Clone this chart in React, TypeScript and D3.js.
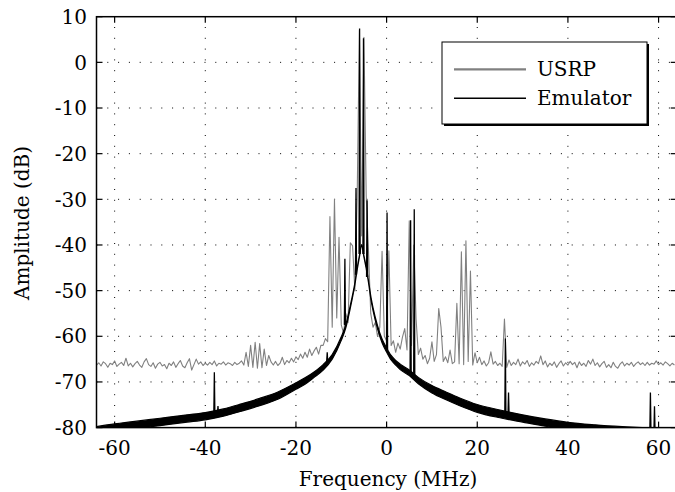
import React from "react";
import * as d3 from "d3";

const W = 675;
const H = 492;

// USRP spectrum, one value per 0.5 MHz bin from -64 MHz
const usrpDb: number[] = [
  -66.3,-65.8,-66.5,-65.6,-66.0,-66.8,-65.9,-66.2,-65.4,-66.6,
  -66.1,-65.7,-66.4,-64.8,-66.5,-65.9,-66.7,-66.0,-65.5,-66.3,
  -66.8,-65.6,-64.9,-66.2,-66.6,-65.8,-67.0,-66.1,-65.7,-66.5,
  -66.2,-67.1,-65.9,-66.4,-65.6,-66.8,-66.0,-65.3,-66.5,-66.9,
  -65.8,-64.9,-67.4,-66.2,-65.0,-66.1,-65.6,-66.4,-65.9,-66.3,
  -65.7,-66.2,-65.4,-66.5,-65.9,-66.1,-65.6,-66.3,-65.8,-66.0,
  -66.4,-65.7,-66.2,-65.9,-65.4,-66.3,-63.5,-66.6,-62.0,-66.8,
  -61.3,-67.0,-61.6,-66.9,-62.8,-66.4,-64.2,-65.6,-66.3,-65.5,
  -66.4,-65.9,-64.6,-66.2,-65.3,-65.8,-64.8,-65.6,-64.5,-65.1,
  -63.9,-64.8,-63.5,-64.6,-62.8,-64.2,-63.2,-62.4,-63.9,-62.0,
  -62.0,-60.5,-61.2,-33.8,-58.0,-30.0,-56.0,-38.3,-57.5,-59.3,
  -55.0,-57.0,-39.5,-40.2,-50.0,-30.0,7.0,-38.0,5.5,-29.3,
  -41.1,-55.0,-58.0,-57.0,-60.0,-58.0,-41.4,-60.0,-61.0,-41.3,
  -62.0,-61.0,-63.5,-61.5,-62.8,-60.2,-58.3,-63.0,-34.7,-62.0,
  -40.0,-56.1,-64.0,-62.6,-65.0,-64.2,-66.0,-64.8,-61.2,-65.5,
  -64.0,-53.9,-58.0,-65.5,-64.5,-65.8,-63.0,-66.0,-65.6,-52.8,
  -66.0,-41.5,-66.2,-39.1,-65.5,-45.7,-66.3,-63.6,-65.8,-64.6,
  -66.2,-65.4,-66.5,-65.8,-63.4,-66.1,-65.5,-66.4,-65.9,-66.6,
  -56.2,-66.8,-65.2,-66.4,-65.7,-66.2,-65.0,-66.5,-65.6,-66.1,
  -65.3,-66.6,-65.8,-66.3,-65.5,-66.0,-64.3,-66.2,-65.4,-66.7,
  -65.9,-66.4,-65.6,-66.8,-66.0,-65.4,-66.5,-65.8,-66.3,-65.5,
  -66.2,-65.7,-66.9,-65.6,-66.4,-65.9,-66.6,-65.3,-66.1,-65.0,
  -66.4,-65.8,-66.7,-66.0,-65.5,-66.8,-66.2,-66.9,-65.7,-66.6,
  -67.0,-66.1,-65.6,-66.5,-65.9,-66.3,-65.7,-66.6,-66.0,-65.6,
  -66.2,-65.8,-66.4,-65.7,-66.3,-65.9,-66.1,-65.4,-66.2,-65.8,
  -66.3,-65.6,-66.0,-66.5,-65.9,-66.3,
];
const usrpFreq: number[] = d3.range(usrpDb.length).map((i) => -64 + 0.5 * i);

// Emulator noise band (upper / lower envelope)
const emuFreq: number[] = [
  -64,-60,-56,-52,-48,-44,-40,-36,-32,-28,
  -24,-20,-18,-16,-14,-12,-10,-9,-8,-7,
  -6.5,-6,-5.5,-5,-4.5,-4,-3.4,-3,-2,-1,
  0,1,2,3,5,7,10,13,16,20,
  25,30,35,40,46,52,58,64,
];
const emuUpper: number[] = [
  -79.8,-79.2,-78.7,-78.2,-77.7,-77.2,-76.7,-75.9,-74.8,-73.6,
  -72.2,-70.2,-69.1,-67.8,-66.2,-64.0,-60.1,-57.45,-53.2,-48.3,
  -45.1,-42.35,-39.9,-42.35,-44.8,-47.8,-51.7,-53.7,-57.65,-60.6,
  -62.55,-64.2,-65.3,-66.1,-67.4,-69.0,-70.8,-72.15,-73.45,-74.95,
  -76.15,-77.2,-78.1,-78.85,-79.4,-79.8,-80.1,-80.4,
];
const emuLower: number[] = [
  -81.4,-80.8,-80.3,-79.8,-79.3,-78.8,-78.3,-77.5,-76.4,-75.2,
  -73.8,-71.6,-70.5,-69.0,-67.4,-65.0,-60.9,-58.15,-53.8,-48.7,
  -45.5,-42.65,-40.1,-42.65,-45.2,-48.2,-52.3,-54.3,-58.35,-61.4,
  -63.45,-65.2,-66.3,-67.3,-68.6,-70.4,-72.4,-73.85,-75.15,-76.65,
  -77.85,-78.8,-79.7,-80.35,-81.0,-81.4,-81.7,-82.0,
];

// Emulator spurs
const spikeFreq: number[] = [-38.0,-37.2,-13.1,-9.2,-6.75,-5.96,-5.1,-4.3,0.1,5.3,6.1,26.2,26.9,58.2,59.1];
const spikeTop: number[] = [-67.9,-75.3,-63.5,-43.0,-27.5,7.4,5.3,-30.2,-32.9,-34.6,-32.2,-60.5,-72.3,-72.3,-75.3];
const spikeBase: number[] = [-77.4,-77.2,-65.6,-57.5,-46.5,-42.0,-42.0,-47.0,-63.0,-68.3,-68.8,-77.1,-77.2,-80.5,-80.5];

const xTicks: number[] = [-60, -40, -20, 0, 20, 40, 60];
const yTicks: number[] = [-80, -70, -60, -50, -40, -30, -20, -10, 0, 10];
const seriesNames: string[] = ["USRP", "Emulator"];

const FONT = "'DejaVu Serif', serif";

export default function App() {
  const left = 96.5, right = 676.7, top = 16.7, bottom = 427.6;
  const x = d3.scaleLinear().domain([-64, 64]).range([left, right]);
  const y = d3.scaleLinear().domain([-80, 10]).range([bottom, top]);

  const usrpLine = d3
    .line<number>()
    .x((_, i) => x(usrpFreq[i]))
    .y((d) => y(d))(usrpDb) as string;

  const band = d3
    .area<number>()
    .x((f) => x(f))
    .y0((_, i) => y(emuLower[i]))
    .y1((_, i) => y(emuUpper[i]))
    .curve(d3.curveMonotoneX)(emuFreq) as string;

  const spikes = spikeFreq.map((f, i) =>
    d3.line<[number, number]>()
      .x((p) => x(p[0]))
      .y((p) => y(p[1]))([
        [f - 0.12, spikeBase[i]],
        [f, spikeTop[i]],
        [f + 0.12, spikeBase[i]],
      ]) as string
  );

  const tick = 6;
  const legX = 442, legY = 42, legW = 205, legH = 82;
  const fs = 20;

  return (
    <svg
      width={W}
      height={H}
      style={{ position: "absolute", left: 0, top: 0, background: "#fff" }}
      fontFamily={FONT}
    >
      <defs>
        <clipPath id="plot">
          <rect x={left} y={top} width={right - left} height={bottom - top} />
        </clipPath>
      </defs>
      <rect x={0} y={0} width={W} height={H} fill="#fff" />

      {/* grid */}
      <g stroke="#000" strokeWidth={1} strokeDasharray="1 9.8">
        {xTicks.map((t) => (
          <line key={"gx" + t} x1={x(t)} x2={x(t)} y1={bottom} y2={top} />
        ))}
        {yTicks.filter((t) => t > -80 && t < 10).map((t) => (
          <line key={"gy" + t} x1={left} x2={right} y1={y(t)} y2={y(t)} />
        ))}
      </g>

      <g clipPath="url(#plot)">
        <path d={usrpLine} fill="none" stroke="#808080" strokeWidth={1.1} strokeLinejoin="round" />
        <path d={band} fill="#000" stroke="#000" strokeWidth={1.2} strokeLinejoin="round" />
        {spikes.map((d, i) => (
          <path key={"s" + i} d={d} fill="#000" stroke="#000" strokeWidth={1.3} strokeLinejoin="miter" />
        ))}
      </g>

      {/* axes box */}
      <rect x={left} y={top} width={right - left} height={bottom - top} fill="none" stroke="#000" strokeWidth={1.5} />
      <g stroke="#000" strokeWidth={1.2}>
        {xTicks.map((t) => (
          <g key={"tx" + t}>
            <line x1={x(t)} x2={x(t)} y1={bottom} y2={bottom - tick} />
            <line x1={x(t)} x2={x(t)} y1={top} y2={top + tick} />
          </g>
        ))}
        {yTicks.map((t) => (
          <g key={"ty" + t}>
            <line x1={left} x2={left + tick} y1={y(t)} y2={y(t)} />
            <line x1={right} x2={right - tick} y1={y(t)} y2={y(t)} />
          </g>
        ))}
      </g>

      {/* tick labels */}
      <g fontSize={fs} fill="#000">
        {xTicks.map((t) => (
          <text key={"lx" + t} x={x(t)} y={455} textAnchor="middle">
            {t < 0 ? "-" + Math.abs(t) : String(t)}
          </text>
        ))}
        {yTicks.map((t) => (
          <text key={"ly" + t} x={87} y={y(t)} dy="0.36em" textAnchor="end">
            {t < 0 ? "-" + Math.abs(t) : String(t)}
          </text>
        ))}
      </g>

      <text x={388} y={486} textAnchor="middle" fontSize={fs}>
        Frequency (MHz)
      </text>
      <text transform="translate(29,223) rotate(-90)" textAnchor="middle" fontSize={fs}>
        Amplitude (dB)
      </text>

      {/* legend */}
      <rect x={legX + 2} y={legY + 2} width={legW} height={legH} fill="#000" />
      <rect x={legX} y={legY} width={legW} height={legH} fill="#fff" stroke="#000" strokeWidth={1} />
      <line x1={454} x2={526} y1={69.3} y2={69.3} stroke="#808080" strokeWidth={2.2} />
      <line x1={454} x2={526} y1={98.3} y2={98.3} stroke="#000" strokeWidth={1.5} />
      <text x={537} y={75.5} fontSize={fs}>{seriesNames[0]}</text>
      <text x={537} y={104.5} fontSize={fs}>{seriesNames[1]}</text>
    </svg>
  );
}
